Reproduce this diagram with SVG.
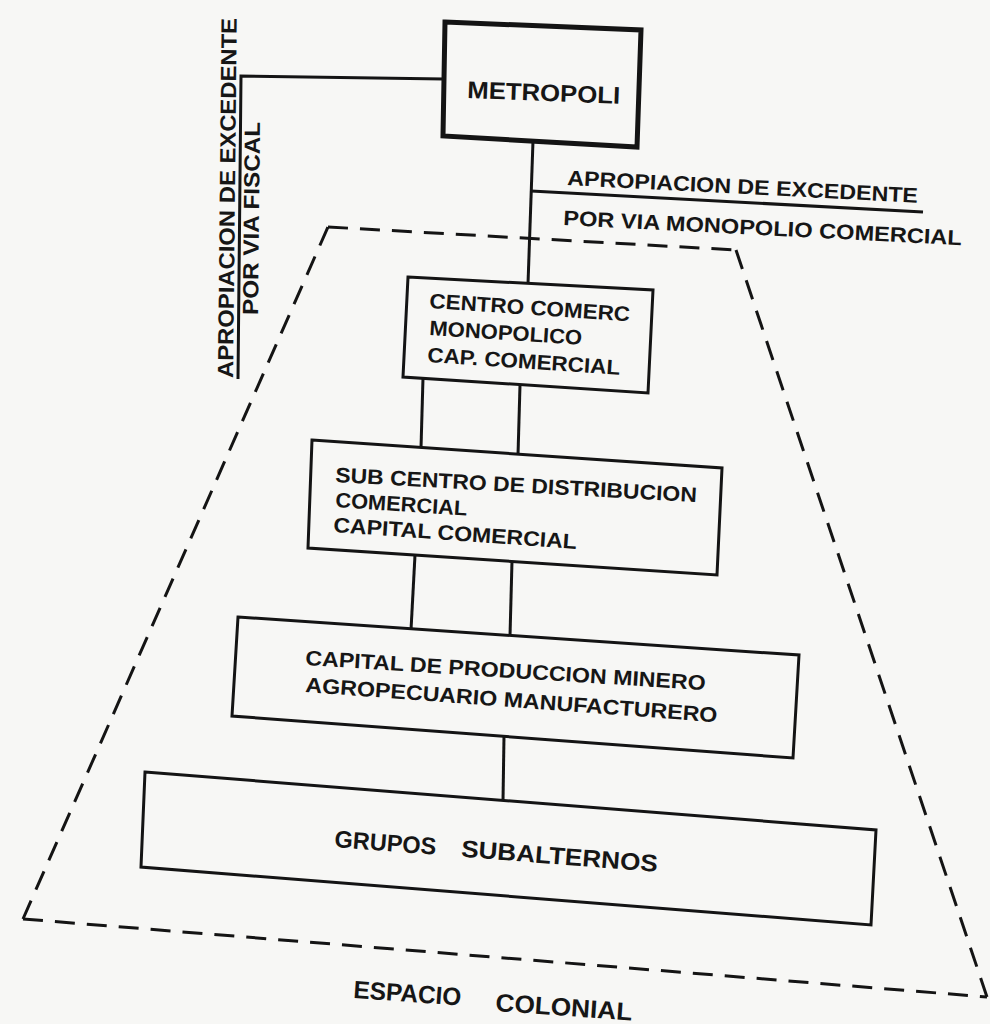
<svg xmlns="http://www.w3.org/2000/svg" width="990" height="1024" viewBox="0 0 990 1024">
<style>
.bx{fill:none;stroke:#141414;stroke-width:3;stroke-linejoin:miter}
.bxk{fill:none;stroke:#141414;stroke-width:5;stroke-linejoin:miter}
.ln{fill:none;stroke:#141414;stroke-width:3}
.ds{fill:none;stroke:#141414;stroke-width:3;stroke-dasharray:20 12}
text{font-family:"Liberation Sans",Arial,sans-serif;font-weight:bold;fill:#161616}
.t21{font-size:21px}
.t22{font-size:22px}
.t24{font-size:24px}
.t26{font-size:25px}
</style>
<rect x="0" y="0" width="990" height="1024" fill="#f7f7f5"/>

<g id="espacio-colonial">
<line class="ds" x1="328" y1="227" x2="736" y2="250"/>
<line class="ds" x1="736" y1="250" x2="987" y2="997"/>
<line class="ds" x1="23" y1="919" x2="987" y2="997"/>
<line class="ds" x1="23" y1="919" x2="328" y2="227"/>
<text class="t26" x="353" y="998" transform="rotate(4 353 998)" textLength="108" lengthAdjust="spacingAndGlyphs">ESPACIO</text>
<text class="t26" x="495" y="1011" transform="rotate(4 495 1011)" textLength="137" lengthAdjust="spacingAndGlyphs">COLONIAL</text>
</g>

<g id="connectors">
<polyline class="ln" points="444,79 241,76 238,379"/>
<line class="ln" x1="533" y1="141" x2="528" y2="284"/>
<line class="ln" x1="531" y1="191" x2="923" y2="212"/>
<line class="ln" x1="423" y1="378" x2="421" y2="448"/>
<line class="ln" x1="520" y1="385" x2="518" y2="455"/>
<line class="ln" x1="415" y1="555" x2="411" y2="630"/>
<line class="ln" x1="512" y1="561" x2="510" y2="636"/>
<line class="ln" x1="504" y1="736" x2="503" y2="801"/>
</g>

<g id="label-fiscal">
<text class="t22" x="0" y="0" transform="translate(233 378) rotate(-89.4)" textLength="360" lengthAdjust="spacingAndGlyphs">APROPIACION DE EXCEDENTE</text>
<text class="t22" x="0" y="0" transform="translate(258 315) rotate(-89.4)" textLength="193" lengthAdjust="spacingAndGlyphs">POR VIA FISCAL</text>
</g>

<g id="label-monopolio">
<text class="t21" x="567" y="185" transform="rotate(2.9 567 185)" textLength="351" lengthAdjust="spacingAndGlyphs">APROPIACION DE EXCEDENTE</text>
<text class="t21" x="563" y="225" transform="rotate(2.9 563 225)" textLength="399" lengthAdjust="spacingAndGlyphs">POR VIA MONOPOLIO COMERCIAL</text>
</g>

<g id="metropoli">
<polygon class="bxk" points="445,22 641,30 637,147 443,136"/>
<text class="t24" x="467" y="98" transform="rotate(2.2 467 98)" textLength="153" lengthAdjust="spacingAndGlyphs">METROPOLI</text>
</g>

<g id="centro-comerc">
<polygon class="bx" points="408,277 653,290 648,393 403,377"/>
<text class="t21" x="429" y="308" transform="rotate(3.8 429 308)" textLength="201" lengthAdjust="spacingAndGlyphs">CENTRO COMERC</text>
<text class="t21" x="429" y="335" transform="rotate(3.7 429 335)" textLength="153" lengthAdjust="spacingAndGlyphs">MONOPOLICO</text>
<text class="t21" x="427" y="362" transform="rotate(3.8 427 362)" textLength="193" lengthAdjust="spacingAndGlyphs">CAP. COMERCIAL</text>
</g>

<g id="sub-centro">
<polygon class="bx" points="312,440 722,468 717,575 308,548"/>
<text class="t21" x="335" y="482" transform="rotate(3.2 335 482)" textLength="362" lengthAdjust="spacingAndGlyphs">SUB CENTRO DE DISTRIBUCION</text>
<text class="t21" x="335" y="507" transform="rotate(3.8 335 507)" textLength="132" lengthAdjust="spacingAndGlyphs">COMERCIAL</text>
<text class="t21" x="333" y="532" transform="rotate(4 333 532)" textLength="244" lengthAdjust="spacingAndGlyphs">CAPITAL COMERCIAL</text>
</g>

<g id="capital-produccion">
<polygon class="bx" points="238,617 799,655 793,758 232,716"/>
<text class="t21" x="305" y="665" transform="rotate(3.6 305 665)" textLength="401" lengthAdjust="spacingAndGlyphs">CAPITAL DE PRODUCCION MINERO</text>
<text class="t21" x="305" y="692" transform="rotate(4.2 305 692)" textLength="413" lengthAdjust="spacingAndGlyphs">AGROPECUARIO MANUFACTURERO</text>
</g>

<g id="grupos-subalternos">
<polygon class="bx" points="145,772 876,830 871,925 141,867"/>
<text class="t24" x="334" y="847" transform="rotate(4.4 334 847)"><tspan x="334" textLength="102" lengthAdjust="spacingAndGlyphs">GRUPOS</tspan><tspan x="461" textLength="197" lengthAdjust="spacingAndGlyphs">SUBALTERNOS</tspan></text>
</g>
</svg>
